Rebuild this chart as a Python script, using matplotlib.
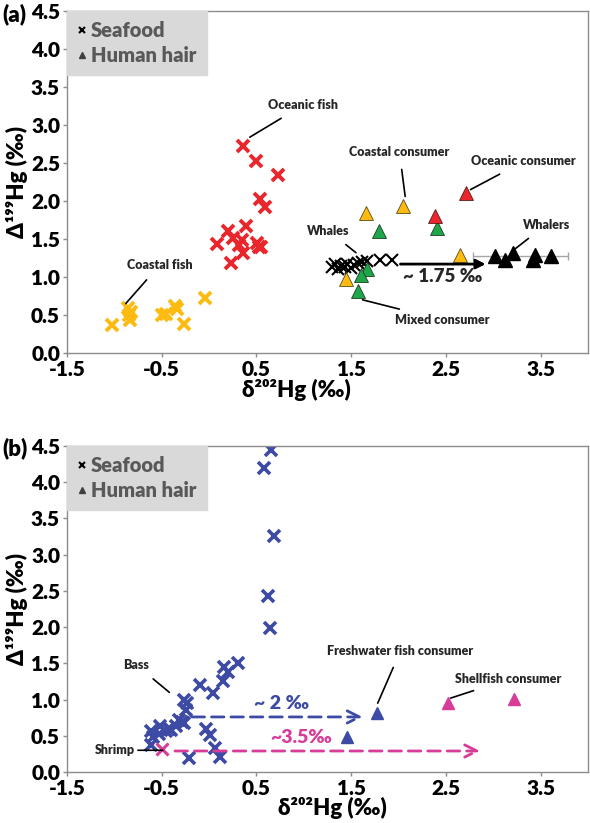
import matplotlib
matplotlib.use("Agg")
import matplotlib.pyplot as plt
from matplotlib.lines import Line2D

plt.rcParams['font.family'] = ['Lato', 'Open Sans', 'DejaVu Sans']
plt.rcParams['font.weight'] = 'bold'

# ---------------- Panel (a) data ----------------
oceanic_fish_x = [0.36, 0.49, 0.73, 0.54, 0.59, 0.39, 0.20, 0.25, 0.08, 0.35, 0.32, 0.51, 0.53, 0.36, 0.23, 0.55]
oceanic_fish_y = [2.73, 2.52, 2.34, 2.02, 1.92, 1.67, 1.60, 1.51, 1.43, 1.49, 1.42, 1.45, 1.39, 1.32, 1.19, 1.40]
coastal_fish_x = [-1.02, -0.855, -0.82, -0.84, -0.85, -0.50, -0.46, -0.36, -0.34, -0.26, -0.04]
coastal_fish_y = [0.37, 0.59, 0.545, 0.44, 0.50, 0.50, 0.51, 0.62, 0.58, 0.38, 0.72]
whales_x = [1.30, 1.33, 1.36, 1.39, 1.43, 1.46, 1.50, 1.53, 1.57, 1.61, 1.67, 1.80, 1.93]
whales_y = [1.13, 1.17, 1.11, 1.15, 1.13, 1.17, 1.12, 1.16, 1.19, 1.20, 1.21, 1.23, 1.23]

coastal_cons_x = [1.66, 2.05, 2.65, 1.45]
coastal_cons_y = [1.84, 1.93, 1.29, 0.98]
mixed_cons_x = [1.79, 2.41, 1.67, 1.60, 1.57]
mixed_cons_y = [1.61, 1.64, 1.10, 1.03, 0.82]
oceanic_cons_x = [2.71, 2.39]
oceanic_cons_y = [2.10, 1.80]
whalers_x = [3.02, 3.12, 3.21, 3.44, 3.42, 3.61]
whalers_y = [1.27, 1.23, 1.31, 1.29, 1.23, 1.27]
whalers_err_x = [3.29]
whalers_err_y = [1.28]
whalers_err = [0.5]

shift_a_start, shift_a_end, shift_a_y = 2.02, 2.92, 1.17

# ---------------- Panel (b) data ----------------
bass_x = [0.65, 0.58, 0.68, 0.62, 0.64, 0.30, 0.16, 0.20, 0.15, -0.10, 0.04, -0.26, -0.23, -0.24,
          -0.29, -0.32, -0.35, -0.42, -0.45, -0.52, -0.53, -0.61, -0.59, -0.61, -0.03, 0.005,
          0.06, 0.11, -0.21, -0.27, -0.40]
bass_y = [4.45, 4.19, 3.26, 2.43, 1.99, 1.50, 1.45, 1.38, 1.25, 1.20, 1.09, 0.99, 0.95, 0.86,
          0.69, 0.72, 0.63, 0.60, 0.56, 0.63, 0.53, 0.56, 0.49, 0.37, 0.60, 0.51,
          0.33, 0.21, 0.19, 0.67, 0.58]
shrimp_x = [-0.50]
shrimp_y = [0.32]
fw_cons_x = [1.77, 1.46]
fw_cons_y = [0.81, 0.49]
shell_cons_x = [2.52, 3.22]
shell_cons_y = [0.95, 1.01]

shift_b1_start, shift_b1_end, shift_b1_y = -0.18, 1.62, 0.76
shift_b2_start, shift_b2_end, shift_b2_y = -0.36, 2.86, 0.29

xticks = [-1.5, -0.5, 0.5, 1.5, 2.5, 3.5]
xticklabels = ['-1.5', '-0.5', '0.5', '1.5', '2.5', '3.5']
yticks = [0.0, 0.5, 1.0, 1.5, 2.0, 2.5, 3.0, 3.5, 4.0, 4.5]
yticklabels = ['0.0', '0.5', '1.0', '1.5', '2.0', '2.5', '3.0', '3.5', '4.0', '4.5']

RED = '#E8262B'
YEL = '#FDBB12'
GRN = '#1FA64A'
BLU = '#3E4BA4'
MAG = '#D63C98'
SPINE = '#8C8C8C'
TXT = '#262626'
W = 'heavy'

fig = plt.figure(figsize=(5.9, 8.23), dpi=100)
axA = fig.add_axes([67/590, 470/823, 521/590, 342/823])
axB = fig.add_axes([67/590, 51/823, 521/590, 326/823])


def style(ax, xlabel_x):
    ax.set_xlim(-1.5, 4.0)
    ax.set_ylim(0, 4.5)
    ax.set_xticks(xticks)
    ax.set_xticklabels(xticklabels)
    ax.set_yticks(yticks)
    ax.set_yticklabels(yticklabels)
    for s in ax.spines.values():
        s.set_color(SPINE)
        s.set_linewidth(1.0)
    ax.tick_params(colors=SPINE, labelcolor='black', labelsize=15, length=3, width=1, pad=2)
    for lab in ax.get_xticklabels() + ax.get_yticklabels():
        lab.set_fontweight(W)
    ax.set_xlabel('δ²⁰²Hg (‰)', fontsize=16, fontweight=W, labelpad=0)
    ax.set_ylabel('Δ¹⁹⁹Hg (‰)', fontsize=16, fontweight=W, labelpad=2)
    ax.xaxis.set_label_coords(xlabel_x, -0.075)
    handles = [Line2D([], [], marker='x', color='black', ls='', markersize=5, mew=1.5),
               Line2D([], [], marker='^', color='#404040', ls='', markersize=5)]
    leg = ax.legend(handles, ['Seafood', 'Human hair'], loc='upper left', borderaxespad=0,
                    frameon=True, fancybox=False, facecolor='#D9D9D9', edgecolor='#D9D9D9',
                    framealpha=1, handlelength=0.5, handletextpad=0.2, labelspacing=0.3,
                    borderpad=0.5, prop={'weight': W, 'size': 14.5}, labelcolor='#595959')
    leg.set_zorder(5)


def ann(ax, text, xy, xytext, size=9):
    ax.annotate(text, xy=xy, xytext=xytext, ha='center', va='center', fontsize=size,
                fontweight=W, color=TXT,
                arrowprops=dict(arrowstyle='-', color='black', lw=1.2, shrinkA=6, shrinkB=0))


# ---- Panel (a)
axA.plot(coastal_fish_x, coastal_fish_y, ls='', marker='x', color=YEL, markersize=9, mew=2.8)
axA.plot(oceanic_fish_x, oceanic_fish_y, ls='', marker='x', color=RED, markersize=9, mew=2.8)
axA.plot(whales_x, whales_y, ls='', marker='x', color='black', markersize=9, mew=1.5)
axA.errorbar(whalers_err_x, whalers_err_y, xerr=whalers_err, fmt='none', ecolor='#A6A6A6',
             elinewidth=1.0, capsize=3)
axA.plot(coastal_cons_x, coastal_cons_y, ls='', marker='^', color=YEL, mec='#5a4a1a', mew=0.6, markersize=10)
axA.plot(mixed_cons_x, mixed_cons_y, ls='', marker='^', color=GRN, mec='#1e3d24', mew=0.6, markersize=10)
axA.plot(oceanic_cons_x, oceanic_cons_y, ls='', marker='^', color=RED, mec='#5a1a1a', mew=0.6, markersize=10)
axA.plot(whalers_x, whalers_y, ls='', marker='^', color='black', markersize=10)
axA.annotate('', xy=(shift_a_end, shift_a_y), xytext=(shift_a_start, shift_a_y),
             arrowprops=dict(arrowstyle='-|>', color='black', lw=2, mutation_scale=14,
                             shrinkA=0, shrinkB=0))
axA.text(2.47, 1.0, '~ 1.75 ‰', ha='center', va='center', fontsize=13.5, fontweight=W, color=TXT)

ann(axA, 'Oceanic fish', (0.43, 2.84), (0.99, 3.26))
ann(axA, 'Coastal fish', (-0.88, 0.65), (-0.52, 1.16))
ann(axA, 'Coastal consumer', (2.07, 2.06), (2.01, 2.64))
ann(axA, 'Oceanic consumer', (2.76, 2.15), (3.32, 2.52))
ann(axA, 'Whales', (1.55, 1.32), (1.26, 1.61))
ann(axA, 'Whalers', (3.22, 1.36), (3.56, 1.69))
ann(axA, 'Mixed consumer', (1.62, 0.70), (2.46, 0.435))
style(axA, 0.44)

# ---- Panel (b)
axB.plot(bass_x, bass_y, ls='', marker='x', color=BLU, markersize=8, mew=2.6)
axB.plot(shrimp_x, shrimp_y, ls='', marker='x', color=MAG, markersize=8, mew=2.2)
axB.plot(fw_cons_x, fw_cons_y, ls='', marker='^', color=BLU, markersize=9)
axB.plot(shell_cons_x, shell_cons_y, ls='', marker='^', color=MAG, markersize=9)
axB.annotate('', xy=(shift_b1_end, shift_b1_y), xytext=(shift_b1_start, shift_b1_y),
             arrowprops=dict(arrowstyle='->', color=BLU, lw=2, ls=(0, (4.5, 2.5)), mutation_scale=22,
                             shrinkA=0, shrinkB=0))
axB.annotate('', xy=(shift_b2_end, shift_b2_y), xytext=(shift_b2_start, shift_b2_y),
             arrowprops=dict(arrowstyle='->', color=MAG, lw=2, ls=(0, (4.5, 2.5)), mutation_scale=22,
                             shrinkA=0, shrinkB=0))
axB.text(0.76, 0.95, '~ 2 ‰', ha='center', va='center', fontsize=14, fontweight=W, color=BLU)
axB.text(0.97, 0.48, '~3.5‰', ha='center', va='center', fontsize=14, fontweight=W, color=MAG)
ann(axB, 'Bass', (-0.42, 1.10), (-0.77, 1.48))
ann(axB, 'Freshwater fish consumer', (1.78, 0.95), (2.02, 1.67))
ann(axB, 'Shellfish consumer', (2.55, 1.02), (3.16, 1.28))
axB.annotate('Shrimp', xy=(-0.49, 0.30), xytext=(-0.78, 0.30), ha='right', va='center',
             fontsize=9, fontweight=W, color=TXT,
             arrowprops=dict(arrowstyle='-', color='black', lw=1.2, shrinkA=0, shrinkB=0))
style(axB, 0.51)

fig.text(2/590, 1 - 14/823, '(a)', fontsize=16, fontweight=W, va='center', ha='left')
fig.text(2/590, 1 - 448/823, '(b)', fontsize=16, fontweight=W, va='center', ha='left')

fig.savefig('out.png', dpi=100)
